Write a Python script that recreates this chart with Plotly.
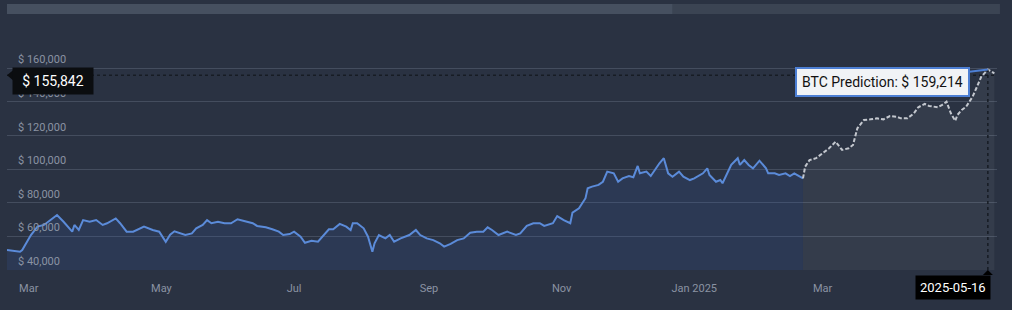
import pandas as pd
import plotly.graph_objects as go

START = pd.Timestamp("2024-02-20")

# Historical BTC price (day offset from START, USD)
hist_day = [0, 6, 7, 11, 14, 17, 20, 23, 26, 28, 30, 31, 33, 35, 38, 41, 44, 46, 50, 52,
            55, 58, 63, 67, 70, 73, 75, 77, 80, 82, 85, 87, 90, 92, 94, 97, 100, 103, 106, 109,
            113, 115, 119, 122, 125, 127, 130, 132, 135, 137, 140, 143, 145, 148, 150, 153, 156, 158, 159, 161,
            164, 166, 168, 169, 171, 174, 176, 178, 181, 183, 185, 188, 190, 193, 196, 199, 201, 204, 207, 210,
            213, 216, 219, 221, 223, 226, 230, 234, 236, 239, 242, 245, 247, 251, 253, 256, 259, 260, 263, 266,
            267, 269, 272, 274, 276, 279, 281, 283, 286, 288, 290, 291, 294, 296, 298, 300, 302, 304, 306, 309,
            311, 314, 316, 320, 322, 323, 326, 328, 329, 331, 333, 336, 337, 339, 341, 343, 346, 349, 350, 353,
            355, 358, 360, 362, 365, 366]
hist_price = [51900, 50900, 51900, 60800, 65800, 66800, 69700, 72700, 68700, 65800, 62800, 66800, 63800, 69700, 68700, 69700, 66800, 67800, 70700, 67800,
              62800, 62800, 65800, 63800, 62800, 56800, 61000, 63000, 61800, 60800, 61800, 64800, 66800, 69700, 67800, 68700, 67800, 67800, 70200, 69000,
              67800, 66200, 65400, 64200, 62800, 60800, 61400, 62800, 59800, 56200, 57400, 56800, 59800, 64200, 64200, 67400, 65800, 63800, 67800, 67800,
              64800, 59800, 50900, 55900, 60800, 58800, 60800, 56800, 58800, 59800, 60800, 63800, 60800, 58800, 57800, 55900, 53900, 55500, 57800, 58800,
              62200, 62800, 62800, 65400, 63800, 60800, 62800, 60800, 61800, 66200, 67800, 67800, 66200, 67800, 72100, 69700, 67800, 74100, 76700, 82700,
              88600, 89600, 90600, 92500, 98500, 97500, 92500, 94500, 95900, 95200, 101900, 97500, 98500, 95900, 99900, 103500, 106500, 97500, 95500, 98500,
              95500, 93500, 94500, 97500, 100500, 96500, 92500, 93500, 91600, 97500, 102500, 106500, 102500, 105400, 102500, 100500, 105000, 100500, 97500, 97500,
              96500, 97500, 95900, 97500, 95500, 94500]

# Predicted BTC price (day offset from START, USD)
pred_day = [366, 367, 369, 372, 375, 378, 381, 384, 387, 389, 391, 394, 397, 400, 403, 406, 409, 411, 414, 417,
            419, 422, 424, 428, 430, 432, 434, 436, 437, 439, 441, 444, 446, 448, 451, 453, 454]
pred_price = [94500, 101500, 105400, 106500, 109400, 112400, 116300, 111400, 112400, 114400, 124300, 129200, 129600, 130200, 129600, 131600, 131200, 130200, 130200, 133200,
              136800, 138800, 137600, 136800, 138200, 140100, 133200, 128800, 132200, 135200, 137100, 143100, 149000, 155000, 159214, 158000, 157000]

# Axis ticks
y_ticks = [40000, 60000, 80000, 100000, 120000, 140000, 160000]
x_tick_dates = ["2024-03-01", "2024-05-01", "2024-07-01", "2024-09-01", "2024-11-01", "2025-01-01", "2025-03-01"]
x_tick_text = ["Mar", "May", "Jul", "Sep", "Nov", "Jan 2025", "Mar"]

# Hover state shown in the picture
hover_date = "2025-05-16"
hover_price = 159214
cursor_price = 155842

x_range = ["2024-02-20", "2025-05-20 05:00"]
y_range = [40000, 188700]

hist_x = [START + pd.Timedelta(days=d) for d in hist_day]
pred_x = [START + pd.Timedelta(days=d) for d in pred_day]

BG = "#2a3242"
GRID = "#444d5e"
TXT = "#8a93a3"
FONT = "Roboto"

fig = go.Figure()

fig.add_trace(go.Scatter(
    x=hist_x, y=hist_price, mode="lines",
    line=dict(color="#5b8bd9", width=2),
    fill="tozeroy", fillcolor="rgba(60,100,190,0.15)",
    hoverinfo="skip", showlegend=False))

fig.add_trace(go.Scatter(
    x=pred_x, y=pred_price, mode="lines",
    line=dict(color="#c3c7ce", width=2, dash="4px,2px"),
    fill="tozeroy", fillcolor="rgba(255,255,255,0.05)",
    hoverinfo="skip", showlegend=False))

shapes = []
# navigator bar at top
shapes.append(dict(type="rect", xref="paper", yref="paper", x0=0, x1=1.003, y0=1.024, y1=1.064,
                   fillcolor="#3b4453", line=dict(width=0), layer="below"))
shapes.append(dict(type="rect", xref="paper", yref="paper", x0=0, x1=0.672, y0=1.024, y1=1.064,
                   fillcolor="#465060", line=dict(width=0), layer="below"))
# crosshair lines
shapes.append(dict(type="line", xref="paper", yref="y", x0=0, x1=1, y0=cursor_price, y1=cursor_price,
                   line=dict(color="#171c24", width=1.5, dash="dot")))
shapes.append(dict(type="line", xref="x", yref="y", x0=hover_date, x1=hover_date, y0=y_range[0], y1=hover_price,
                   line=dict(color="#171c24", width=1.5, dash="dot")))
# pointer triangles of the crosshair labels
shapes.append(dict(type="path", xref="paper", yref="y", xsizemode="pixel", ysizemode="pixel",
                   xanchor=0, yanchor=cursor_price, path="M 0,0 L 6,5 L 6,-5 Z",
                   fillcolor="#0b0d10", line=dict(width=0)))
shapes.append(dict(type="path", xref="x", yref="paper", xsizemode="pixel", ysizemode="pixel",
                   xanchor=hover_date, yanchor=0, path="M 0,0 L -5,-5 L 5,-5 Z",
                   fillcolor="#000000", line=dict(width=0)))

annotations = []
for v in y_ticks:
    annotations.append(dict(xref="paper", yref="y", x=0, y=v, xanchor="left", yanchor="bottom",
                            xshift=9, text=f"$ {v:,}", showarrow=False,
                            font=dict(family=FONT, size=11, color=TXT)))

annotations.append(dict(xref="paper", yref="y", x=0, y=cursor_price, xanchor="left", yanchor="middle",
                        xshift=5, yshift=-6, text=f"$ {cursor_price:,}", showarrow=False,
                        width=70, bgcolor="#0b0d10", borderpad=5,
                        font=dict(family=FONT, size=14, color="#ffffff")))

annotations.append(dict(xref="x", yref="paper", x=hover_date, y=0, xanchor="right", yanchor="top",
                        xshift=3, yshift=-5, text=hover_date, showarrow=False,
                        bgcolor="#000000", borderpad=4,
                        font=dict(family=FONT, size=13, color="#ffffff")))

annotations.append(dict(xref="x", yref="y", x=hover_date, y=hover_price,
                        text=f"BTC Prediction: $ {hover_price:,}", showarrow=True,
                        arrowhead=0, arrowwidth=2, arrowcolor="#4d7fd4", ax=-105, ay=12,
                        bgcolor="#f1f3f6", bordercolor="#4d7fd4", borderwidth=2, borderpad=5,
                        font=dict(family=FONT, size=14, color="#111111")))

fig.update_layout(
    width=1012, height=310,
    margin=dict(l=7, r=15, t=20, b=40),
    paper_bgcolor=BG, plot_bgcolor=BG,
    font=dict(family=FONT, color=TXT),
    shapes=shapes, annotations=annotations,
    hovermode=False, showlegend=False,
    xaxis=dict(type="date", range=x_range, tickvals=x_tick_dates, ticktext=x_tick_text,
               showgrid=False, zeroline=False, showline=False,
               ticks="outside", ticklen=8, tickcolor="rgba(0,0,0,0)",
               tickfont=dict(family=FONT, size=11, color=TXT)),
    yaxis=dict(range=y_range, tickvals=y_ticks, showticklabels=False,
               showgrid=True, gridcolor=GRID, gridwidth=1, zeroline=False, showline=False),
)

fig.write_html("out.html")
